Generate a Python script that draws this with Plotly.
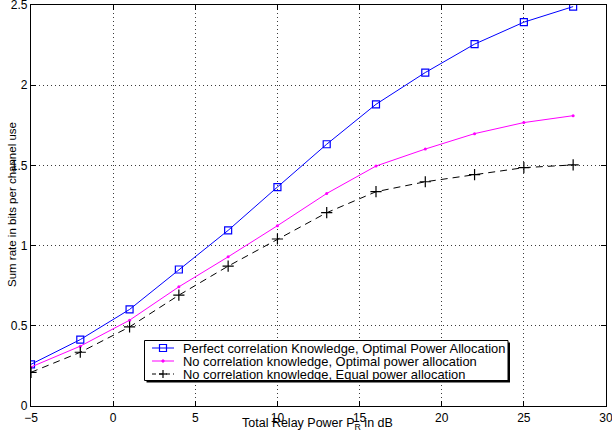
import plotly.graph_objects as go

# Total relay power (dB)
power_db = [-5, -2, 1, 4, 7, 10, 13, 16, 19, 22, 25, 28]

# Sum rate (bits per channel use) for each scheme
rate_perfect_opt = [0.26, 0.414, 0.602, 0.851, 1.095, 1.365, 1.632, 1.881, 2.079, 2.256, 2.393, 2.49]
rate_nocorr_opt = [0.243, 0.373, 0.535, 0.743, 0.930, 1.124, 1.325, 1.496, 1.602, 1.698, 1.767, 1.810]
rate_nocorr_equal = [0.210, 0.335, 0.493, 0.691, 0.872, 1.041, 1.205, 1.336, 1.398, 1.442, 1.486, 1.503]

names = [
    "Perfect correlation Knowledge, Optimal Power Allocation",
    "No correlation knowledge, Optimal power allocation",
    "No correlation knowledge, Equal power allocation",
]

x_ticks = [-5, 0, 5, 10, 15, 20, 25, 30]
y_ticks = [0, 0.5, 1, 1.5, 2, 2.5]

FONT = "Liberation Sans, Arial, Helvetica, sans-serif"
W, H = 612, 438
ML, MR, MT, MB = 31, 6, 5, 32
PW, PH = W - ML - MR, H - MT - MB


def px_x(x):
    """Pixel column -> paper x coordinate."""
    return (x - ML) / PW


def px_y(y):
    """Pixel row (from top) -> paper y coordinate."""
    return (H - MB - y) / PH


styles = [
    dict(color="#0000ff", dash="solid"),
    dict(color="#ff00ff", dash="solid"),
    dict(color="#000000", dash="7px,5px"),
]

fig = go.Figure()
fig.add_trace(go.Scatter(
    x=power_db, y=rate_perfect_opt, name=names[0], mode="lines+markers",
    line=dict(color=styles[0]["color"], width=1),
    marker=dict(symbol="square-open", size=7, color=styles[0]["color"], line=dict(width=1.2)),
))
fig.add_trace(go.Scatter(
    x=power_db, y=rate_nocorr_opt, name=names[1], mode="lines+markers",
    line=dict(color=styles[1]["color"], width=1),
    marker=dict(symbol="circle", size=3, color=styles[1]["color"]),
))
fig.add_trace(go.Scatter(
    x=power_db, y=rate_nocorr_equal, name=names[2], mode="lines+markers",
    line=dict(color=styles[2]["color"], width=1, dash=styles[2]["dash"]),
    marker=dict(symbol="cross-thin-open", size=8, color="#000000", line=dict(width=1.2, color="#000000")),
))

axis_common = dict(
    showline=True, linecolor="black", linewidth=1.3, mirror="allticks",
    ticks="inside", ticklen=5, tickcolor="black", tickwidth=1,
    showgrid=True, gridcolor="#3a3a3a", griddash="1px,3px", gridwidth=1,
    zeroline=False, ticklabeloverflow="allow", automargin=False,
    tickfont=dict(family=FONT, size=12, color="black"),
)

fig.update_xaxes(range=[-5, 30], tickvals=x_ticks, **axis_common)
fig.update_yaxes(range=[0, 2.5], tickvals=y_ticks, **axis_common)

fig.add_annotation(
    text="Total Relay Power P<sub>R</sub> in dB", xref="paper", yref="paper",
    x=px_x(317.5), y=px_y(424), xanchor="center", yanchor="middle",
    showarrow=False, font=dict(family=FONT, size=12.5, color="black"),
)
fig.add_annotation(
    text="Sum rate in bits per channel use", xref="paper", yref="paper",
    x=px_x(12), y=px_y(205), xanchor="center", yanchor="middle",
    textangle=-90, showarrow=False, font=dict(family=FONT, size=11.5, color="black"),
)

# Legend box with drop shadow
box_l, box_r, box_t, box_b = 144.5, 508, 340.5, 380.5
fig.add_shape(type="rect", xref="paper", yref="paper",
              x0=px_x(box_l + 2), x1=px_x(box_r + 2), y0=px_y(box_b + 2), y1=px_y(box_t + 2),
              fillcolor="black", line=dict(width=0), layer="above")
fig.add_shape(type="rect", xref="paper", yref="paper",
              x0=px_x(box_l), x1=px_x(box_r), y0=px_y(box_b), y1=px_y(box_t),
              fillcolor="white", line=dict(color="black", width=1), layer="above")

row_y = [348, 361, 374]
sample_l, sample_r = 152, 174
sample_c = (sample_l + sample_r) / 2
for i, (name, st) in enumerate(zip(names, styles)):
    yy = px_y(row_y[i])
    fig.add_shape(type="line", xref="paper", yref="paper",
                  x0=px_x(sample_l), x1=px_x(sample_r), y0=yy, y1=yy,
                  line=dict(color=st["color"], width=1, dash="4px,3px" if i == 2 else "solid"),
                  layer="above")
    if i == 0:
        fig.add_shape(type="rect", xref="paper", yref="paper",
                      x0=px_x(sample_c - 3.5), x1=px_x(sample_c + 3.5),
                      y0=px_y(row_y[i] + 3.5), y1=px_y(row_y[i] - 3.5),
                      line=dict(color=st["color"], width=1.2), fillcolor="rgba(0,0,0,0)",
                      layer="above")
    elif i == 1:
        fig.add_shape(type="circle", xref="paper", yref="paper",
                      x0=px_x(sample_c - 1.2), x1=px_x(sample_c + 1.2),
                      y0=px_y(row_y[i] + 1.2), y1=px_y(row_y[i] - 1.2),
                      line=dict(color=st["color"], width=1), fillcolor=st["color"],
                      layer="above")
    else:
        fig.add_shape(type="line", xref="paper", yref="paper",
                      x0=px_x(sample_c - 4), x1=px_x(sample_c + 4), y0=yy, y1=yy,
                      line=dict(color=st["color"], width=1.2), layer="above")
        fig.add_shape(type="line", xref="paper", yref="paper",
                      x0=px_x(sample_c), x1=px_x(sample_c),
                      y0=px_y(row_y[i] + 4), y1=px_y(row_y[i] - 4),
                      line=dict(color=st["color"], width=1.2), layer="above")
    fig.add_annotation(
        text=name, xref="paper", yref="paper", x=px_x(180.5), y=yy,
        xanchor="left", yanchor="middle", showarrow=False,
        font=dict(family=FONT, size=12.9, color="black"),
    )

fig.update_layout(
    width=W, height=H,
    margin=dict(l=ML, r=MR, t=MT, b=MB, autoexpand=False),
    paper_bgcolor="white", plot_bgcolor="white",
    showlegend=False,
)

fig.write_html("out.html")
